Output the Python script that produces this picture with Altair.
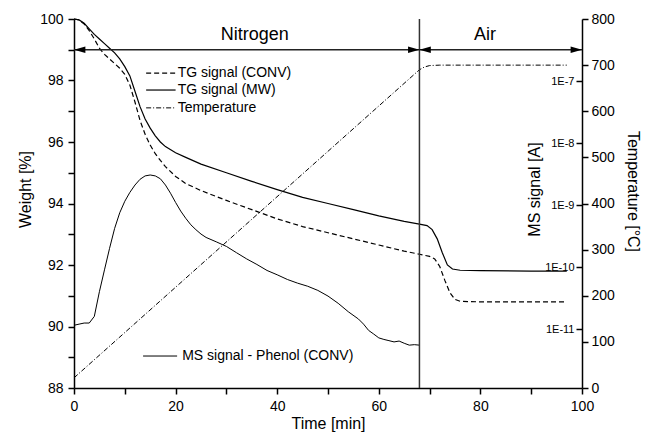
import altair as alt
import pandas as pd

FONT = "Liberation Sans"

# ---------------- data ----------------
time_mw = [0, 1, 2, 3, 4, 5, 6, 7, 8, 9, 10, 11, 12, 13, 14, 15, 16, 17, 18, 20, 22, 25,
           30, 35, 40, 45, 50, 55, 60, 65, 68, 69.5, 70.5, 71.5, 72.5, 73.5, 74.5, 76, 80, 90, 97]
weight_mw = [100.0, 99.97, 99.86, 99.68, 99.5, 99.35, 99.2, 99.05, 98.9, 98.7, 98.45, 98.15,
             97.65, 97.15, 96.75, 96.45, 96.2, 96.0, 95.85, 95.65, 95.5, 95.28, 95.0, 94.72,
             94.45, 94.2, 94.0, 93.8, 93.6, 93.42, 93.33, 93.28, 93.15, 92.85, 92.4, 92.0,
             91.87, 91.83, 91.82, 91.8, 91.8]

time_conv = [0, 1, 2, 3, 4, 5, 6, 7, 8, 9, 10, 11, 12, 13, 14, 15, 16, 17, 18, 20, 22, 25,
             30, 35, 40, 45, 50, 55, 60, 65, 68, 70, 71, 72, 73, 74, 75, 76, 80, 90, 97]
weight_conv = [100.0, 99.97, 99.84, 99.62, 99.35, 99.05, 98.85, 98.7, 98.55, 98.4, 98.2,
               97.85, 97.3, 96.7, 96.25, 95.9, 95.62, 95.4, 95.2, 94.88, 94.65, 94.42, 94.1,
               93.8, 93.5, 93.25, 93.05, 92.85, 92.65, 92.45, 92.35, 92.28, 92.2, 91.95,
               91.5, 91.1, 90.88, 90.82, 90.8, 90.8, 90.8]

time_temp = [0, 68, 69, 70, 72, 97]
temperature = [22, 690, 696, 699, 700, 700]

time_ms = [0, 1, 2, 3, 4, 5, 6, 7, 8, 9, 10, 11, 12, 13, 14, 15, 16, 17, 18, 19, 20, 21,
           22, 23, 24, 25, 26, 28, 30, 32, 34, 36, 38, 40, 42, 44, 46, 48, 50, 52, 54, 56,
           57, 58, 59, 60, 61, 62, 63, 64, 65, 66, 67, 68]
ms_signal = [1.15e-11, 1.2e-11, 1.25e-11, 1.25e-11, 1.6e-11, 4e-11, 9e-11, 2.0e-10, 4.2e-10,
             7.5e-10, 1.15e-9, 1.6e-9, 2.1e-9, 2.6e-9, 2.95e-9, 3.05e-9, 2.95e-9, 2.65e-9,
             2.1e-9, 1.55e-9, 1.1e-9, 8e-10, 6.1e-10, 4.8e-10, 4.0e-10, 3.4e-10, 3.0e-10,
             2.55e-10, 2.15e-10, 1.7e-10, 1.35e-10, 1.1e-10, 8.8e-11, 7.5e-11, 6.3e-11,
             5.5e-11, 4.9e-11, 4.2e-11, 3.4e-11, 2.6e-11, 1.9e-11, 1.45e-11, 1.2e-11,
             9.5e-12, 8.3e-12, 7.2e-12, 6.8e-12, 6.5e-12, 6.2e-12, 6.4e-12, 5.9e-12,
             5.5e-12, 5.6e-12, 5.5e-12]

x_ticks = [0, 10, 20, 30, 40, 50, 60, 70, 80, 90, 100]
weight_ticks = [88, 89, 90, 91, 92, 93, 94, 95, 96, 97, 98, 99, 100]
temp_ticks = [0, 100, 200, 300, 400, 500, 600, 700, 800]
ms_ticks = [1e-11, 1e-10, 1e-9, 1e-8, 1e-7]

legend_labels = ["TG signal (CONV)", "TG signal (MW)", "Temperature"]
ms_legend_label = "MS signal - Phenol (CONV)"
region_labels = ["Nitrogen", "Air"]
switch_time = 68
arrow_level = 99

# ---------------- scales / helpers ----------------
X_DOMAIN = [0, 100]
W_DOMAIN = [88, 100]
T_DOMAIN = [0, 800]
MS_DOMAIN = [1.12e-12, 1e-6]
W = 508
H = 369

x_axis = alt.Axis(values=x_ticks, labelExpr="datum.value % 20 == 0 ? datum.label : ''",
                  title="Time [min]", tickSize=6, labelPadding=5, titlePadding=2,
                  labelFlush=False)


def xenc(field="t"):
    return alt.X(f"{field}:Q", scale=alt.Scale(domain=X_DOMAIN, nice=False, zero=False),
                 axis=x_axis)


def wenc(field="w", axis=None):
    return alt.Y(f"{field}:Q", scale=alt.Scale(domain=W_DOMAIN, nice=False, zero=False), axis=axis)


df_mw = pd.DataFrame({"t": time_mw, "w": weight_mw})
df_conv = pd.DataFrame({"t": time_conv, "w": weight_conv})
df_temp = pd.DataFrame({"t": time_temp, "T": temperature})
df_ms = pd.DataFrame({"t": time_ms, "ms": ms_signal})

w_axis = alt.Axis(values=weight_ticks, labelExpr="datum.value % 2 == 0 ? datum.label : ''",
                  title="Weight [%]", tickSize=6, labelPadding=5, titlePadding=6, titleY=170,
                  labelFlush=False)
t_axis = alt.Axis(orient="right", values=temp_ticks, title="Temperature [°C]", tickSize=6,
                  labelPadding=3, titlePadding=10, titleY=172, labelFlush=False)
ms_axis = alt.Axis(orient="left", offset=-W, values=ms_ticks, domain=False,
                   labelExpr="'1E' + round(log(datum.value) / LN10)", labelFontSize=11,
                   tickSize=6, labelPadding=2, title="MS signal [A]", titlePadding=2,
                   titleY=170, labelFlush=False)

mw = alt.Chart(df_mw).mark_line(color="black", strokeWidth=1.2).encode(
    x=xenc("t"), y=wenc("w", w_axis))
conv = alt.Chart(df_conv).mark_line(color="black", strokeWidth=1.2, strokeDash=[5, 3]).encode(
    x=xenc(), y=wenc())
temp = alt.Chart(df_temp).mark_line(color="black", strokeWidth=1, strokeDash=[5, 2, 1, 2]).encode(
    x=xenc(), y=alt.Y("T:Q", scale=alt.Scale(domain=T_DOMAIN, nice=False), axis=t_axis))
ms = alt.Chart(df_ms).mark_line(color="black", strokeWidth=1).encode(
    x=xenc(), y=alt.Y("ms:Q", scale=alt.Scale(type="log", domain=MS_DOMAIN, nice=False), axis=ms_axis))

vline = alt.Chart(pd.DataFrame({"t": [switch_time]})).mark_rule(color="#333333", strokeWidth=1.5).encode(
    x=xenc())

arrows = alt.Chart(pd.DataFrame({"t1": [0, switch_time], "t2": [switch_time, 100],
                                 "w": [arrow_level, arrow_level]})).mark_rule(
    color="#222222", strokeWidth=1.3).encode(x=xenc("t1"), x2="t2", y=wenc())

LEFT_HEAD = "M0,0L2,-0.55L2,0.55Z"
RIGHT_HEAD = "M0,0L-2,-0.55L-2,0.55Z"
heads = alt.Chart(pd.DataFrame({"t": [0, switch_time, switch_time, 100],
                                "w": [arrow_level] * 4,
                                "shape": [LEFT_HEAD, RIGHT_HEAD, LEFT_HEAD, RIGHT_HEAD]})).mark_point(
    filled=True, color="black", opacity=1, size=130, strokeWidth=0).encode(
    x=xenc(), y=wenc(), shape=alt.Shape("shape:N", scale=None))

regions = alt.Chart(pd.DataFrame({"t": [35.6, 80.9], "w": [99.48, 99.48],
                                  "label": region_labels})).mark_text(
    font=FONT, fontSize=18, color="black").encode(x=xenc(), y=wenc(), text="label:N")

# legend
leg_w = [98.24, 97.69, 97.11]
leg_conv = alt.Chart(pd.DataFrame({"t1": [14.2], "t2": [20.0], "w": [leg_w[0]]})).mark_rule(
    color="black", strokeWidth=1.2, strokeDash=[5, 3]).encode(x=xenc("t1"), x2="t2", y=wenc())
leg_mw = alt.Chart(pd.DataFrame({"t1": [14.2], "t2": [20.0], "w": [leg_w[1]]})).mark_rule(
    color="black", strokeWidth=1.2).encode(x=xenc("t1"), x2="t2", y=wenc())
leg_temp = alt.Chart(pd.DataFrame({"t1": [14.2], "t2": [20.0], "w": [leg_w[2]]})).mark_rule(
    color="black", strokeWidth=1, strokeDash=[5, 2, 1, 2]).encode(x=xenc("t1"), x2="t2", y=wenc())
leg_ms = alt.Chart(pd.DataFrame({"t1": [13.6], "t2": [20.3], "w": [89.04]})).mark_rule(
    color="black", strokeWidth=1).encode(x=xenc("t1"), x2="t2", y=wenc())

leg_text = alt.Chart(pd.DataFrame({"t": [20.4, 20.4, 20.4, 21.3],
                                   "w": leg_w + [89.04],
                                   "label": legend_labels + [ms_legend_label]})).mark_text(
    font=FONT, fontSize=14, color="black", align="left", baseline="middle").encode(
    x=xenc(), y=wenc(), text="label:N")

chart = alt.layer(
    mw, conv, temp, ms, vline, arrows, heads, regions,
    leg_conv, leg_mw, leg_temp, leg_ms, leg_text
).resolve_scale(y="independent").properties(
    width=W, height=H,
    autosize=alt.AutoSizeParams(type="none"),
    padding={"left": 66, "top": 11, "right": 61, "bottom": 46},
).configure_axis(
    domainColor="black", domainWidth=1.5, tickColor="black", tickWidth=1.5,
    labelColor="black", titleColor="black", labelFont=FONT, titleFont=FONT,
    labelFontSize=14, titleFontSize=16, titleFontWeight="normal", grid=False,
).configure_view(stroke=None)

chart.save("out.html", embed_options={"renderer": "svg", "actions": False})
